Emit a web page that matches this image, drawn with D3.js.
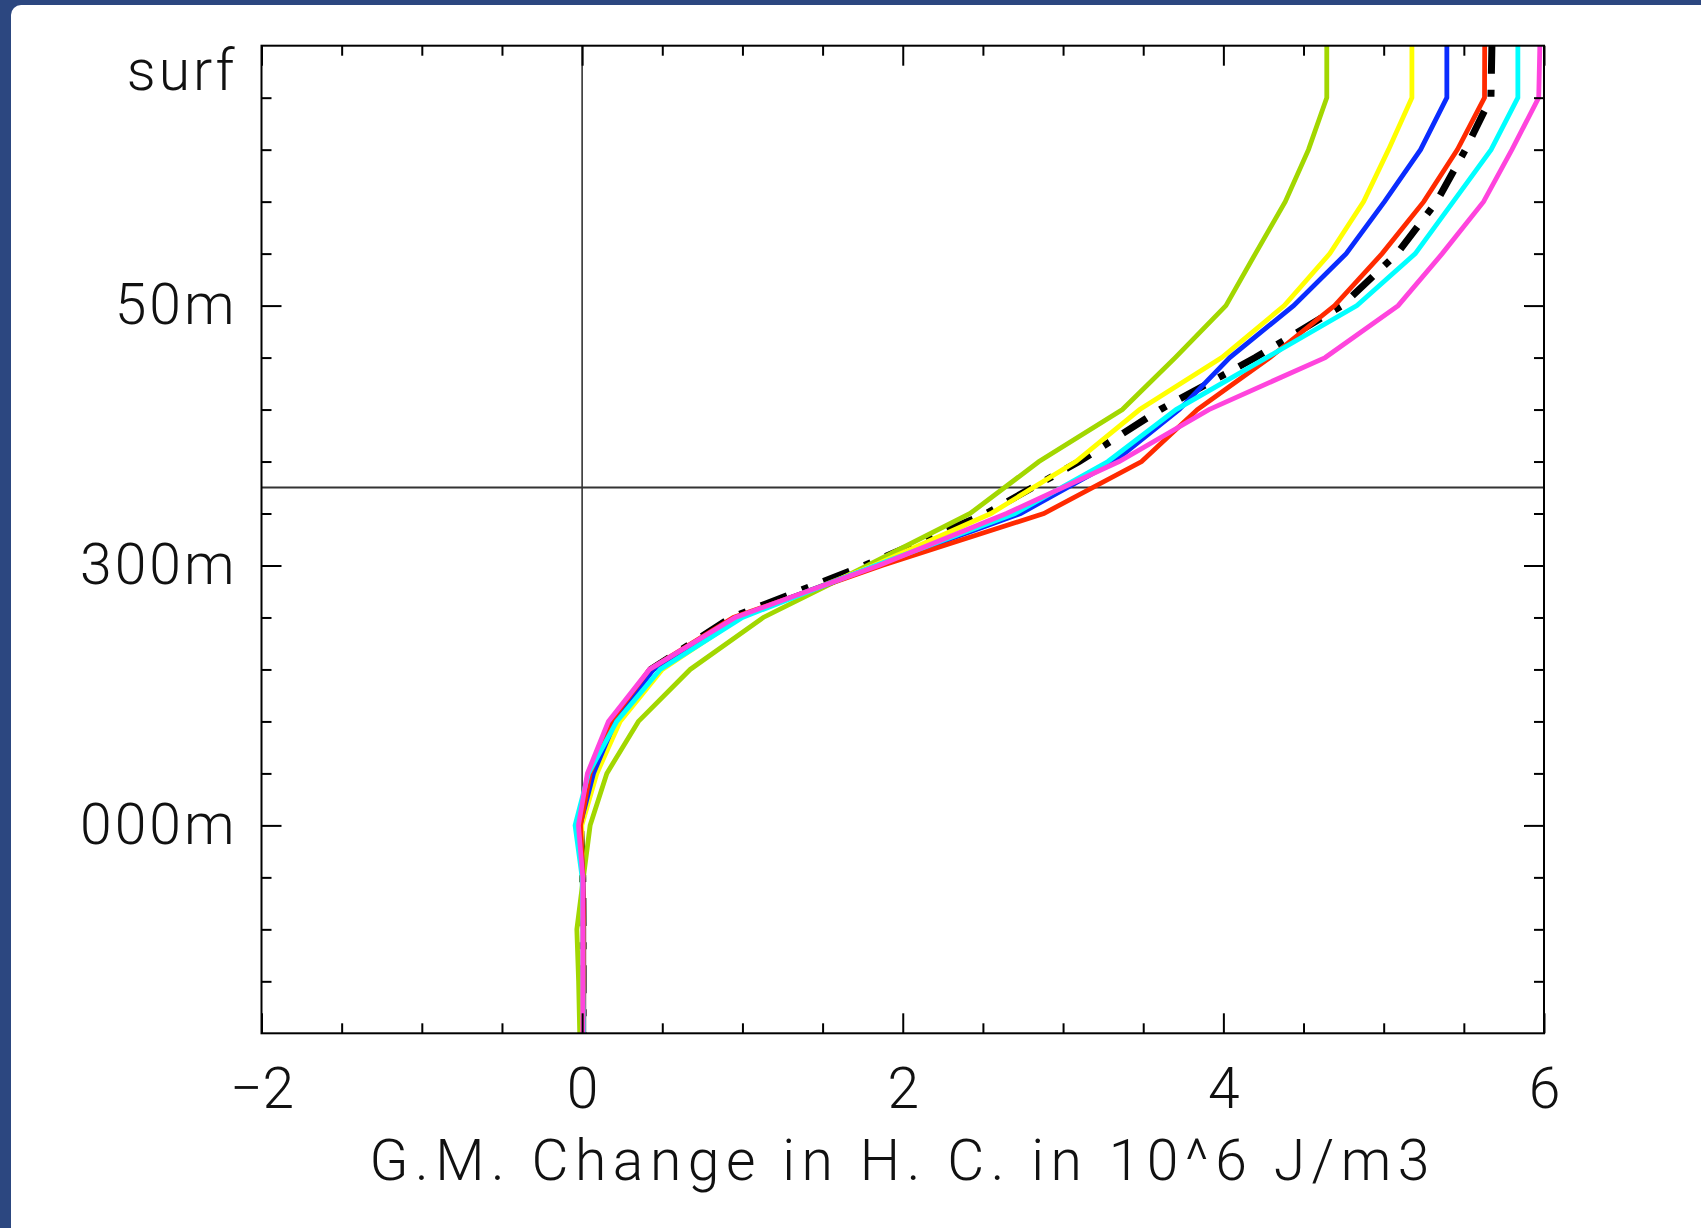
<!DOCTYPE html>
<html>
<head>
<meta charset="utf-8">
<script src="https://cdn.jsdelivr.net/npm/d3@7"></script>
<style>
  html, body { margin: 0; padding: 0; background: #2c4780; }
  svg { display: block; }
  .lbl { font-family: Roboto, "Open Sans", sans-serif; font-weight: 300; fill: #111; }
</style>
</head>
<body>
<svg id="chart" width="1701" height="1228"></svg>
<script>
// Model level index: 0 = surface, 19 = deepest level shown
const levels = d3.range(0, 20);

// Global-mean change in heat content per level (10^6 J/m3), one profile per run
const limeRun    = [4.645, 4.645, 4.531, 4.386, 4.200, 4.016, 3.700, 3.370, 2.850, 2.420, 1.780, 1.130, 0.674, 0.351, 0.154, 0.050, 0.008, -0.033, -0.022, -0.015];
const yellowRun  = [5.176, 5.176, 5.030, 4.875, 4.664, 4.380, 3.990, 3.478, 3.080, 2.550, 1.820, 0.986, 0.500, 0.237, 0.092, -0.002, 0.000, 0.005, 0.005, 0.005];
const blueRun    = [5.394, 5.394, 5.230, 5.005, 4.766, 4.438, 4.040, 3.725, 3.320, 2.735, 1.840, 0.965, 0.445, 0.206, 0.071, -0.013, 0.005, 0.010, 0.010, 0.010];
const redRun     = [5.630, 5.629, 5.460, 5.250, 4.990, 4.694, 4.290, 3.838, 3.490, 2.880, 1.870, 0.944, 0.420, 0.180, 0.050, -0.010, 0.005, 0.010, 0.010, 0.010];
const ensMean    = [5.675, 5.669, 5.510, 5.330, 5.083, 4.740, 4.200, 3.606, 3.100, 2.520, 1.760, 0.930, 0.430, 0.195, 0.060, -0.010, 0.004, 0.006, 0.006, 0.006];
const cyanRun    = [5.837, 5.837, 5.670, 5.434, 5.197, 4.833, 4.270, 3.705, 3.280, 2.700, 1.830, 1.000, 0.487, 0.216, 0.040, -0.044, 0.000, 0.005, 0.005, 0.008];
const magentaRun = [5.974, 5.967, 5.800, 5.623, 5.365, 5.090, 4.635, 3.910, 3.350, 2.647, 1.850, 0.955, 0.420, 0.164, 0.033, -0.023, 0.004, 0.004, 0.004, 0.004];

// Axis ticks and labels
const xMajorTicks = [-2, 0, 2, 4, 6];
const xMinorTicks = d3.range(-1.5, 6, 0.5).filter(v => v % 2 !== 0);
const yLabelLevels = [0.5, 5, 10, 15];
const yLabelText   = ["surf", "50m", "300m", "000m"];
const yMajorTicks  = [5, 10, 15];
const yMinorTicks  = d3.range(1, 19).filter(v => !yMajorTicks.includes(v));
const refLevel = 8.5;
const xTitle = "G.M. Change in H. C. in 10^6 J/m3";

const svg = d3.select("#chart");

// White panel on the blue page frame
svg.append("rect")
  .attr("x", 11).attr("y", 5)
  .attr("width", 1720).attr("height", 1260)
  .attr("rx", 10).attr("fill", "#ffffff");

const plot = { left: 261.5, right: 1544, top: 45.7, bottom: 1033.3 };

const x = d3.scaleLinear().domain([-2, 6]).range([plot.left, plot.right]);
const y = d3.scaleLinear().domain([0, 19]).range([plot.top, plot.bottom]);

// Zero line and reference depth line
svg.append("line")
  .attr("x1", x(0)).attr("x2", x(0))
  .attr("y1", plot.top).attr("y2", plot.bottom)
  .attr("stroke", "#333").attr("stroke-width", 1.6);
svg.append("line")
  .attr("x1", plot.left).attr("x2", plot.right)
  .attr("y1", y(refLevel)).attr("y2", y(refLevel))
  .attr("stroke", "#333").attr("stroke-width", 2);

// Profiles
const profiles = [
  { values: ensMean,    color: "#000000", width: 7,   dash: "28,16,7,16" },
  { values: limeRun,    color: "#a2d700", width: 4.8 },
  { values: yellowRun,  color: "#ffff00", width: 4.8 },
  { values: blueRun,    color: "#0a2cff", width: 4.8 },
  { values: redRun,     color: "#ff2a00", width: 4.8 },
  { values: cyanRun,    color: "#00ffff", width: 4.8 },
  { values: magentaRun, color: "#ff44dd", width: 4.8 }
];

const line = d3.line()
  .x(d => x(d[1]))
  .y(d => y(d[0]));

svg.append("g").selectAll("path")
  .data(profiles)
  .join("path")
  .attr("d", p => line(levels.map((lv, i) => [lv, p.values[i]])))
  .attr("fill", "none")
  .attr("stroke", p => p.color)
  .attr("stroke-width", p => p.width)
  .attr("stroke-linejoin", "miter")
  .attr("stroke-dasharray", p => p.dash || null);

// Frame
svg.append("rect")
  .attr("x", plot.left).attr("y", plot.top)
  .attr("width", plot.right - plot.left).attr("height", plot.bottom - plot.top)
  .attr("fill", "none").attr("stroke", "#000").attr("stroke-width", 2);

// Inward ticks on all four sides
function ticks(axisFn, scale, values, size, transform) {
  const g = svg.append("g").attr("transform", transform)
    .call(axisFn(scale).tickValues(values).tickSize(size).tickSizeOuter(0).tickFormat(""));
  g.select(".domain").remove();
  g.selectAll(".tick line").attr("stroke", "#000").attr("stroke-width", 2);
}
ticks(d3.axisTop,    x, xMinorTicks, 10, `translate(0,${plot.bottom})`);
ticks(d3.axisTop,    x, xMajorTicks, 20, `translate(0,${plot.bottom})`);
ticks(d3.axisBottom, x, xMinorTicks, 10, `translate(0,${plot.top})`);
ticks(d3.axisBottom, x, xMajorTicks, 20, `translate(0,${plot.top})`);
ticks(d3.axisRight,  y, yMinorTicks, 10, `translate(${plot.left},0)`);
ticks(d3.axisRight,  y, yMajorTicks, 20, `translate(${plot.left},0)`);
ticks(d3.axisLeft,   y, yMinorTicks, 10, `translate(${plot.right},0)`);
ticks(d3.axisLeft,   y, yMajorTicks, 20, `translate(${plot.right},0)`);

// Tick labels
const fontSize = 57;
const xLab = svg.append("g")
  .attr("transform", `translate(0,${plot.bottom})`)
  .call(d3.axisBottom(x).tickValues(xMajorTicks).tickSize(0).tickPadding(34).tickFormat(d3.format("d")));
xLab.select(".domain").remove();
xLab.selectAll("text").attr("class", "lbl").attr("font-size", fontSize).attr("fill", "#111");

const yLab = svg.append("g")
  .attr("transform", `translate(${plot.left},0)`)
  .call(d3.axisLeft(y).tickValues(yLabelLevels).tickSize(0).tickPadding(24)
    .tickFormat((d, i) => yLabelText[i]));
yLab.select(".domain").remove();
yLab.selectAll("text").attr("class", "lbl").attr("font-size", fontSize)
  .attr("letter-spacing", 3).attr("fill", "#111");
svg.selectAll(".tick text").style("font-family", "Roboto, 'Open Sans', sans-serif").style("font-weight", 300);
svg.selectAll("g[font-family]").attr("font-family", null);

// Axis title
svg.append("text")
  .attr("class", "lbl")
  .attr("x", (plot.left + plot.right) / 2)
  .attr("y", 1180)
  .attr("text-anchor", "middle")
  .attr("font-size", fontSize)
  .attr("letter-spacing", 6.5)
  .text(xTitle);
</script>
</body>
</html>
